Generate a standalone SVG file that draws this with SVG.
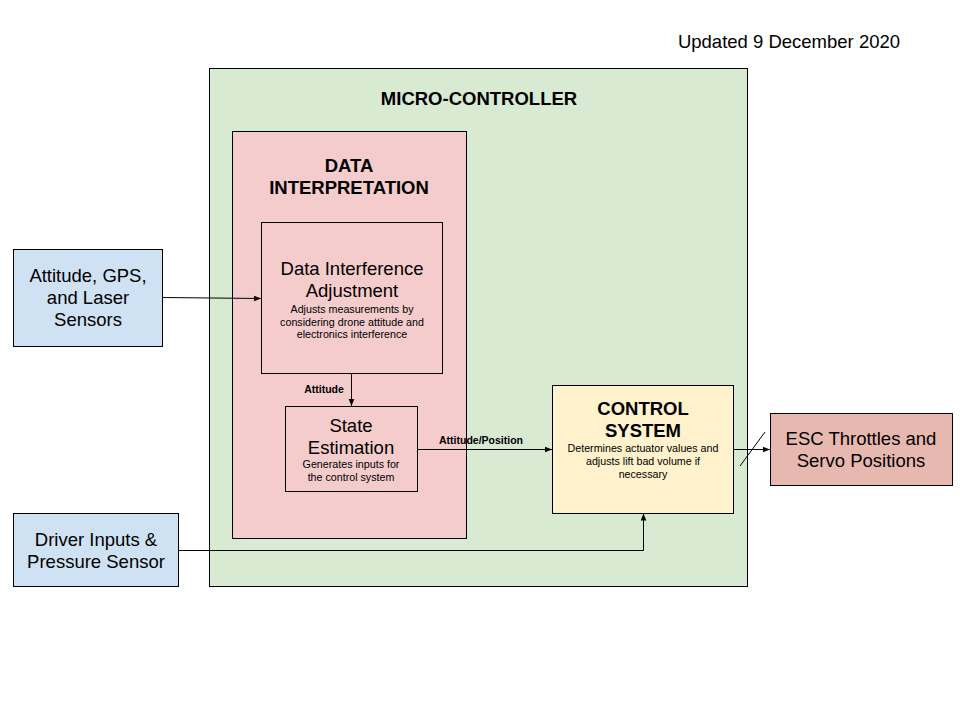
<svg xmlns="http://www.w3.org/2000/svg" width="960" height="720" viewBox="0 0 960 720">
<defs>
<style>
text{font-family:"Liberation Sans",Arial,sans-serif;fill:#000;text-anchor:middle}
.box{stroke:#000;stroke-width:1}
.t{font-size:18.5px}
.b{font-size:18.5px;font-weight:bold}
.s{font-size:10.7px}
.lb{font-size:10.5px;font-weight:bold}
.c{fill:none;stroke:#000;stroke-width:1}
</style>
<marker id="ah" viewBox="0 0 10 10" refX="10" refY="5" markerWidth="7" markerHeight="7" markerUnits="userSpaceOnUse" orient="auto"><path d="M0,1 L10,5 L0,9 z" fill="#000"/></marker>
</defs>
<rect width="960" height="720" fill="#fff"/>
<text x="789" y="48" style="font-size:18.5px">Updated 9 December 2020</text>
<g id="micro-controller">
<rect class="box" x="209.5" y="68.5" width="538" height="518" fill="#d9ead3"/>
<text class="b" x="479" y="105">MICRO-CONTROLLER</text>
</g>
<g id="data-interpretation">
<rect class="box" x="232.5" y="131.5" width="234" height="407" fill="#f4cccc"/>
<text class="b" x="349" y="172">DATA</text>
<text class="b" x="349" y="194">INTERPRETATION</text>
</g>
<g id="data-interference-adjustment">
<rect class="box" x="261.5" y="222.5" width="181" height="151" fill="#f4cccc"/>
<text class="t" x="352" y="275">Data Interference</text>
<text class="t" x="352" y="297">Adjustment</text>
<text class="s" x="352" y="313">Adjusts measurements by</text>
<text class="s" x="352" y="326">considering drone attitude and</text>
<text class="s" x="352" y="338">electronics interference</text>
</g>
<g id="state-estimation">
<rect class="box" x="285.5" y="406.5" width="132" height="85" fill="#f4cccc"/>
<text class="t" x="351" y="432">State</text>
<text class="t" x="351" y="454">Estimation</text>
<text class="s" x="351" y="468">Generates inputs for</text>
<text class="s" x="351" y="481">the control system</text>
</g>
<g id="control-system">
<rect class="box" x="552.5" y="385.5" width="181" height="128" fill="#fff2cc"/>
<text class="b" x="643" y="415">CONTROL</text>
<text class="b" x="643" y="437">SYSTEM</text>
<text class="s" x="643" y="452">Determines actuator values and</text>
<text class="s" x="643" y="465">adjusts lift bad volume if</text>
<text class="s" x="643" y="478">necessary</text>
</g>
<g id="esc">
<rect class="box" x="770.5" y="413.5" width="182" height="72" fill="#e6b8af"/>
<text class="t" x="861" y="445">ESC Throttles and</text>
<text class="t" x="861" y="467">Servo Positions</text>
</g>
<g id="sensors">
<rect class="box" x="13.5" y="249.5" width="149" height="97" fill="#cfe2f3"/>
<text class="t" x="88" y="282">Attitude, GPS,</text>
<text class="t" x="88" y="304">and Laser</text>
<text class="t" x="88" y="326">Sensors</text>
</g>
<g id="driver-inputs">
<rect class="box" x="13.5" y="513.5" width="165" height="73" fill="#cfe2f3"/>
<text class="t" x="96" y="546">Driver Inputs &amp;</text>
<text class="t" x="96" y="568">Pressure Sensor</text>
</g>
<g id="connectors">
<path class="c" d="M162.5,297.5 L261,298.5" marker-end="url(#ah)"/>
<path class="c" d="M351.5,373.5 L351.5,406" marker-end="url(#ah)"/>
<text class="lb" x="324" y="393">Attitude</text>
<path class="c" d="M417.5,449.5 L552,449.5" marker-end="url(#ah)"/>
<text class="lb" x="481" y="444">Attitude/Position</text>
<path class="c" d="M178.5,550.5 L643.5,550.5 L643.5,513.5" marker-end="url(#ah)"/>
<path class="c" d="M733.5,449.5 L770,449.5" marker-end="url(#ah)"/>
<path class="c" d="M740,466 L765,432"/>
</g>
</svg>
